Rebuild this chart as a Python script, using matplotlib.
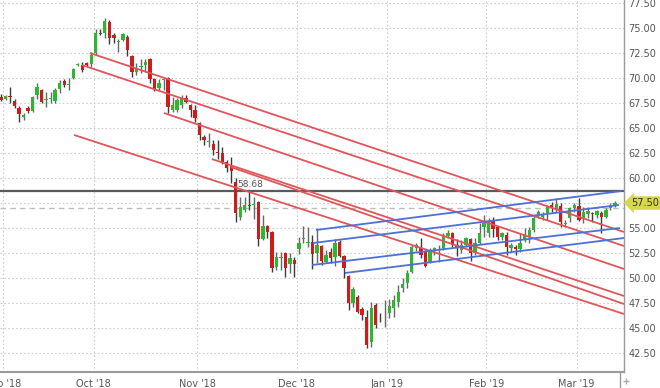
import matplotlib
matplotlib.use('Agg')
import matplotlib.pyplot as plt
import matplotlib.transforms as mtransforms
from matplotlib.lines import Line2D
from matplotlib.ticker import FixedLocator, FuncFormatter

# ---------------- data ----------------
opens = [68.1, 67.9, 68.2, 67.7, 67.0, 66.1, 67.0, 66.7, 68.3, 68.8,
         67.8, 67.9, 67.7, 68.9, 69.7, 69.3, 70.0, 71.3, 71.3, 71.5,
         71.4, 72.5, 74.5, 74.5, 75.6, 74.3, 73.6, 73.8, 74.1, 72.2,
         70.6, 71.1, 71.3, 71.9, 69.9, 69.0, 69.8, 70.0, 66.8, 66.8,
         67.3, 68.0, 67.3, 66.8, 65.5, 64.1, 63.6, 63.4, 62.6, 62.5,
         61.6, 61.2, 59.6, 56.1, 56.8, 57.3, 57.3, 57.6, 53.9, 55.2,
         54.6, 51.1, 52.0, 52.5, 51.4, 51.8, 52.9, 53.9, 53.5, 53.6,
         52.5, 53.2, 51.6, 52.6, 52.1, 53.6, 52.2, 50.2, 47.5, 48.1,
         46.9, 46.1, 43.6, 47.3, 46.05, 45.95, 46.5, 47.0, 47.6, 49.0,
         49.5, 50.6, 53.0, 53.0, 52.6, 51.6, 52.8, 52.75, 53.0, 54.2,
         54.5, 53.3, 52.8, 53.3, 53.9, 52.5, 53.5, 55.1, 54.5, 55.7,
         55.1, 54.1, 54.3, 53.0, 53.1, 52.9, 53.9, 54.2, 54.8, 56.3,
         56.1, 56.5, 57.3, 56.9, 57.2, 55.35, 56.0, 57.0, 57.2, 55.9,
         56.4, 56.45, 56.3, 56.5, 56.1, 57.0, 57.2]
highs = [68.4, 68.3, 69.1, 67.9, 67.2, 66.5, 67.2, 68.2, 69.5, 68.9,
         68.6, 68.6, 69.0, 69.8, 69.9, 70.0, 71.0, 71.5, 71.6, 71.6,
         72.6, 74.9, 74.9, 76.0, 75.8, 74.5, 73.9, 74.5, 74.3, 72.3,
         71.5, 71.9, 71.9, 72.0, 70.0, 69.9, 70.0, 70.1, 68.1, 68.0,
         68.3, 68.3, 67.4, 67.3, 65.6, 64.3, 64.5, 63.8, 63.8, 63.1,
         61.8, 62.1, 60.0, 58.1, 58.1, 58.6, 58.1, 57.7, 56.3, 55.3,
         54.7, 52.6, 52.6, 52.6, 52.5, 52.1, 54.1, 55.2, 55.1, 54.3,
         55.0, 53.3, 52.8, 53.0, 53.9, 53.8, 52.3, 50.3, 49.1, 48.3,
         47.1, 46.8, 47.6, 47.5, 46.5, 47.8, 47.9, 48.3, 49.3, 50.0,
         50.8, 53.3, 53.5, 54.0, 52.8, 53.0, 53.1, 53.3, 54.5, 54.8,
         54.6, 53.9, 53.8, 54.1, 54.0, 54.0, 55.5, 56.3, 56.0, 56.1,
         55.2, 54.6, 54.6, 53.5, 53.3, 54.5, 55.0, 55.1, 56.3, 56.8,
         56.6, 57.3, 57.6, 58.0, 57.5, 55.8, 57.1, 57.5, 58.0, 57.1,
         57.1, 56.6, 56.8, 56.7, 57.0, 57.5, 57.7]
lows = [67.7, 67.8, 67.5, 67.0, 65.6, 65.8, 66.5, 66.6, 67.9, 67.5,
        67.1, 67.5, 67.5, 68.5, 69.1, 68.8, 69.9, 71.2, 70.6, 71.2,
        71.1, 72.3, 74.3, 74.0, 73.4, 73.5, 72.6, 73.7, 72.2, 70.1,
        70.3, 70.5, 70.6, 69.5, 68.7, 68.8, 68.8, 66.5, 66.6, 66.6,
        67.0, 67.5, 66.1, 65.6, 63.8, 63.3, 63.1, 62.3, 61.9, 61.4,
        60.6, 59.5, 55.6, 55.8, 56.6, 56.8, 55.9, 53.2, 53.8, 54.0,
        50.6, 50.8, 50.8, 50.1, 50.5, 50.1, 52.4, 53.5, 53.1, 50.9,
        51.5, 51.3, 51.5, 51.5, 51.2, 52.1, 50.0, 46.8, 47.1, 46.5,
        45.8, 43.0, 43.1, 45.0, 45.6, 45.1, 46.0, 46.1, 47.1, 48.6,
        49.0, 50.5, 52.7, 52.0, 51.1, 51.5, 52.3, 51.6, 52.8, 54.0,
        53.1, 52.2, 52.5, 53.1, 51.7, 52.3, 53.4, 54.1, 54.1, 54.1,
        53.8, 53.8, 52.3, 52.6, 52.3, 52.6, 53.6, 53.5, 54.6, 56.0,
        55.8, 55.8, 56.6, 56.6, 55.1, 55.1, 55.6, 56.6, 55.7, 55.5,
        56.0, 55.6, 56.0, 54.5, 56.0, 56.8, 57.1]
closes = [67.8, 68.2, 68.1, 67.2, 66.4, 66.3, 66.7, 68.1, 69.1, 67.6,
          67.9, 68.0, 68.8, 69.5, 69.3, 69.4, 70.9, 71.4, 70.8, 71.3,
          72.3, 74.5, 74.4, 75.7, 74.0, 74.0, 73.7, 74.4, 72.8, 70.6,
          70.9, 71.2, 71.6, 69.9, 68.9, 69.5, 69.9, 67.1, 67.3, 67.8,
          68.0, 67.6, 66.8, 66.0, 64.3, 63.8, 63.7, 62.8, 62.5, 61.5,
          61.0, 60.7, 56.5, 57.1, 57.3, 57.2, 57.4, 53.9, 55.2, 54.6,
          51.0, 52.1, 52.1, 51.0, 52.0, 51.4, 53.5, 54.0, 53.6, 52.4,
          53.3, 51.7, 52.3, 52.0, 53.5, 52.2, 51.0, 47.5, 48.9, 46.6,
          46.3, 43.3, 47.0, 45.3, 45.95, 46.05, 47.2, 47.8, 48.6, 49.4,
          50.5, 53.1, 53.3, 52.3, 51.2, 52.8, 53.0, 52.85, 54.3, 54.5,
          53.3, 53.0, 53.3, 54.0, 52.5, 53.5, 54.5, 55.5, 55.6, 54.9,
          54.1, 54.5, 53.1, 53.3, 52.9, 53.5, 54.4, 54.8, 56.0, 56.6,
          56.3, 57.1, 57.0, 57.4, 55.6, 55.45, 57.0, 57.3, 55.8, 56.6,
          56.7, 56.35, 56.7, 56.1, 56.8, 57.2, 57.5]

month_labels = ["Sep '18", "Oct '18", "Nov '18", "Dec '18", "Jan '19", "Feb '19", "Mar '19"]
month_pos = [0.5, 20.5, 43.5, 65.5, 85.5, 107.5, 127.5]

price_ticks = [42.5, 45.0, 47.5, 50.0, 52.5, 55.0, 57.5, 60.0, 62.5, 65.0,
               67.5, 70.0, 72.5, 75.0, 77.5]

# trend lines: (start index, start price, end index, end price)
red_lines = [(19.7, 72.5, 138.0, 54.6),
             (17.9, 71.3, 138.0, 53.2),
             (36.1, 66.5, 138.0, 50.9),
             (46.7, 61.9, 138.0, 48.2),
             (50.9, 61.1, 138.0, 47.4),
             (16.2, 64.3, 138.0, 46.4)]
blue_lines = [(69.8, 54.8, 137.5, 58.7),
              (69.1, 53.5, 136.9, 57.3),
              (68.9, 51.3, 137.1, 55.0),
              (76.2, 50.5, 138.0, 54.0)]

level_line = 58.68
prev_line = 57.0
last_price = 57.50
level_label_pos = 52.3

# ---------------- figure ----------------
W, H = 660, 388
fig = plt.figure(figsize=(W / 100, H / 100), dpi=100)
ax = fig.add_axes([0, 1 - 372 / H, 624 / W, 372 / H])
ax.set_xlim(-0.22, 138.0)
ax.set_ylim(40.6, 77.8)

GREEN = '#2fb52f'
RED = '#cc1c1c'

idx = list(range(len(opens)))
# wicks
for i in idx:
    col = '#3a3a3a' if closes[i] < opens[i] else '#666666'
    ax.vlines(i, lows[i], highs[i], color=col, lw=1.0, zorder=3)
# bodies
bottoms = [min(o, c) for o, c in zip(opens, closes)]
heights = [max(abs(c - o), 0.09) for o, c in zip(opens, closes)]
colors = [GREEN if c >= o else RED for o, c in zip(opens, closes)]
ax.bar(idx, heights, bottom=bottoms, width=0.74, color=colors, edgecolor='none', zorder=3.5)

# horizontal levels
ax.axhline(level_line, color='#5a5a5a', lw=1.6, zorder=2.5)
ax.axhline(prev_line, color='#bdbdbd', lw=1.0, ls=(0, (4, 3)), zorder=2.4)
ax.text(level_label_pos, level_line + 0.25, f'{level_line:.2f}', fontsize=6.5,
        color='#555555', va='bottom', ha='left', zorder=5)

for x0, y0, x1, y1 in red_lines:
    ax.plot([x0, x1], [y0, y1], color='#e0555a', lw=1.3, zorder=4, solid_capstyle='butt')
for x0, y0, x1, y1 in blue_lines:
    ax.plot([x0, x1], [y0, y1], color='#4d6fd8', lw=1.3, zorder=4, solid_capstyle='butt')

# grid
ax.xaxis.set_major_locator(FixedLocator(month_pos))
ax.set_xticklabels(month_labels)
ax.yaxis.set_major_locator(FixedLocator(price_ticks))
ax.yaxis.set_major_formatter(FuncFormatter(lambda v, p: '' if abs(v - last_price) < 1e-6 else f'{v:.2f}'))
ax.yaxis.tick_right()
ax.grid(True, color='#cccccc', lw=0.8, ls=(0, (1.5, 2)), zorder=0)
ax.set_axisbelow(True)
ax.tick_params(axis='y', length=0, pad=3, labelsize=7, labelcolor='#555555')
ax.tick_params(axis='x', length=0, pad=5, labelsize=7, labelcolor='#555555')

for s in ['top', 'left']:
    ax.spines[s].set_visible(False)
ax.spines['right'].set_color('#9a9a9a')
ax.spines['bottom'].set_color('#9a9a9a')
ax.spines['right'].set_linewidth(1.0)
ax.spines['bottom'].set_linewidth(1.5)

# current price box
trans = mtransforms.blended_transform_factory(fig.transFigure, ax.transData)
ax.text(631 / W, last_price, f'{last_price:.2f}', transform=trans, fontsize=7,
        color='#333333', va='center', ha='left', zorder=10, clip_on=False,
        bbox=dict(boxstyle='larrow,pad=0.18', fc='#d5d84c', ec='none'))

# small footer decorations
fig.add_artist(Line2D([620 / W, 620 / W], [0, 1 - 372 / H], color='#9a9a9a', lw=1.0))
fig.add_artist(Line2D([626 / W], [1 - 381 / H], marker='+', color='#aaaaaa', ms=4, lw=0))

fig.savefig('out.png', dpi=100)
